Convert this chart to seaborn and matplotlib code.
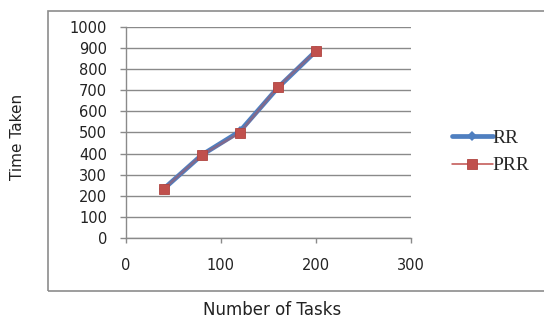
import matplotlib
matplotlib.use("Agg")
import matplotlib.pyplot as plt
from matplotlib.patches import Rectangle
from matplotlib.legend_handler import HandlerLine2D, HandlerTuple
import seaborn as sns
import pandas as pd

# Scheduling results: completion time for each task count
tasks = [40, 80, 120, 160, 200]
rr_time = [232, 393, 505, 712, 886]
prr_time = [232, 393, 498, 715, 886]
x_ticks = [0, 100, 200, 300]
y_ticks = list(range(0, 1001, 100))

sns.set_style("white")
plt.rcParams["font.family"] = ["DejaVu Sans"]

fig = plt.figure(figsize=(5.44, 3.20), dpi=100)
ax = fig.add_axes([0.2311, 0.2572, 0.5239, 0.6575])

grey = "#8a8a8a"
ax.yaxis.grid(True, color=grey, linewidth=1.0)
ax.xaxis.grid(False)
ax.set_axisbelow(True)

rr = pd.DataFrame({"tasks": tasks, "time": rr_time})
prr = pd.DataFrame({"tasks": tasks, "time": prr_time})

sns.lineplot(data=rr, x="tasks", y="time", ax=ax, color="#4F7FC0",
             linewidth=3.4, marker="D", markersize=5, markeredgewidth=0)
sns.lineplot(data=prr, x="tasks", y="time", ax=ax, color="#C0504D",
             linewidth=1.8, alpha=0.45)
sns.lineplot(data=prr, x="tasks", y="time", ax=ax, color="#C0504D",
             linewidth=0, marker="s", markersize=6.5,
             markeredgecolor="#B04440", markeredgewidth=0.6)
rr_line, prr_line, prr_marks = ax.get_lines()[:3]

ax.set_xlim(0, 300)
ax.set_ylim(0, 1000)
ax.set_xticks(x_ticks)
ax.set_yticks(y_ticks)

for side in ("top", "right"):
    ax.spines[side].set_visible(False)
for side in ("left", "bottom"):
    ax.spines[side].set_color(grey)
    ax.spines[side].set_linewidth(1.0)

ax.tick_params(axis="y", which="major", direction="out", length=4.5,
               width=1.0, color=grey, pad=9.0, labelsize=10.5,
               labelcolor="#222222", left=True)
ax.tick_params(axis="x", which="major", direction="out", length=3.6,
               width=1.0, color=grey, pad=11.0, labelsize=10.5,
               labelcolor="#222222", bottom=True)

ax.set_xlabel("Number of Tasks", fontsize=12, color="#222222")
ax.set_ylabel("Time Taken", fontsize=11, color="#222222")
ax.xaxis.set_label_coords((272 - 125.7) / 285.0, (237.7 - 310) / 210.4)
ax.xaxis.label.set_va("center")
ax.yaxis.set_label_coords((17 - 125.7) / 285.0, (237.7 - 137) / 210.4)
ax.yaxis.label.set_va("center")


def solid_red(legend_line, orig):
    legend_line.update_from(orig)
    legend_line.set_alpha(1.0)
    legend_line.set_linewidth(1.1)


# Legend to the right of the plot area, serif type
fig.legend([rr_line, (prr_line, prr_marks)], ["RR", "PRR"],
           loc="center left",
           bbox_to_anchor=(452 / 544, 1 - 152 / 320),
           handler_map={prr_line: HandlerLine2D(update_func=solid_red),
                        tuple: HandlerTuple(ndivide=1)},
           frameon=False, borderpad=0, borderaxespad=0,
           handlelength=2.1, handletextpad=0.0, labelspacing=0.5,
           prop={"family": "Liberation Serif", "size": 14})

# Outer chart border
fig.patches.append(Rectangle((48 / 544, 1 - 291 / 320),
                             1.02 - 48 / 544, (291 - 11) / 320,
                             transform=fig.transFigure, fill=False,
                             edgecolor="#8c8c8c", linewidth=1.2))

fig.savefig("out.png", dpi=100)
